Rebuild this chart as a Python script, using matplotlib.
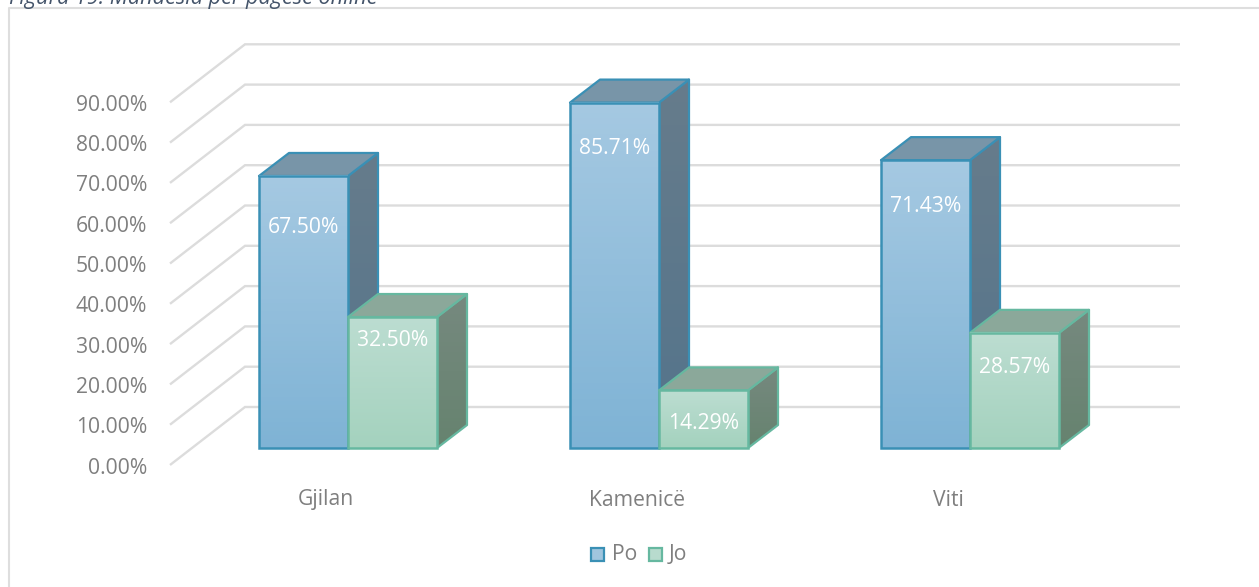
import numpy as np
import matplotlib.pyplot as plt
from matplotlib.colors import LinearSegmentedColormap
from matplotlib.patches import Polygon, Rectangle

plt.rcParams['font.family'] = ['Open Sans', 'DejaVu Sans']

categories = ['Gjilan', 'Kamenicë', 'Viti']
po_values = [67.50, 85.71, 71.43]
jo_values = [32.50, 14.29, 28.57]
ticks = [0, 10, 20, 30, 40, 50, 60, 70, 80, 90]

W, H = 1259, 587
# px per category / px per percent, origin of the scale in pixels
PX_X = 311.0
PX_Y = 4.03
X0, Y0 = 348.0, 448.0

BAR_W = 89 / PX_X
DEPTH_X = 30 / PX_X
DEPTH_Y = 23 / PX_Y
FS = 15.2

fig = plt.figure(figsize=(W / 100, H / 100), dpi=100)
ax = fig.add_axes([0, 0, 1, 1])
ax.set_xlim((0 - X0) / PX_X, (W - X0) / PX_X)
ax.set_ylim((Y0 - H) / PX_Y, Y0 / PX_Y)
ax.axis('off')


def px(x):
    return (x - X0) / PX_X


def py(y):
    return (Y0 - y) / PX_Y


def gradient(x0, x1, y0, y1, c_top, c_bottom, z):
    cmap = LinearSegmentedColormap.from_list('g', [c_top, c_bottom])
    data = np.linspace(0, 1, 64).reshape(-1, 1)
    im = ax.imshow(data, extent=(x0, x1, y0, y1), origin='upper', cmap=cmap,
                   vmin=0, vmax=1, aspect='auto', zorder=z)
    return im


def draw_bar(left, value, fill_top, fill_bottom, top_col, side_top, side_bottom, edge, z):
    right = left + BAR_W
    # side face, clipped to its parallelogram
    side = [(right, 0), (right + DEPTH_X, DEPTH_Y), (right + DEPTH_X, value + DEPTH_Y), (right, value)]
    im = gradient(right, right + DEPTH_X, 0, value + DEPTH_Y, side_top, side_bottom, z)
    clip = Polygon(side, closed=True, transform=ax.transData, fc='none', ec='none')
    ax.add_patch(clip)
    im.set_clip_path(clip)
    ax.add_patch(Polygon(side, closed=True, fc='none', ec=edge, lw=1.6, zorder=z + 0.1, joinstyle='round'))
    # top face
    top = [(left, value), (right, value), (right + DEPTH_X, value + DEPTH_Y), (left + DEPTH_X, value + DEPTH_Y)]
    ax.add_patch(Polygon(top, closed=True, fc=top_col, ec=edge, lw=1.6, zorder=z + 0.2, joinstyle='round'))
    # front face
    gradient(left, right, 0, value, fill_top, fill_bottom, z + 0.3)
    ax.add_patch(Rectangle((left, 0), BAR_W, value, fc='none', ec=edge, lw=1.8, zorder=z + 0.4))


# frame around the chart, it runs off the picture on the right and below
ax.plot([px(W + 5), px(9), px(9)], [py(8), py(8), py(H + 5)], color='#dedede', lw=1.5, zorder=1)

# the source picture cuts this caption at the top edge
ax.text(px(9), py(-2), 'Figura 19: Mandësia për pagesë online', fontsize=15.6, style='italic',
        color='#44546a', ha='left', va='center', zorder=5)

# floor offset of the value axis and gridlines
for t in ticks:
    y_back = t + 41 / PX_Y
    y_front = t - 17 / PX_Y
    ax.plot([px(170), px(245), px(1180)], [y_front, y_back, y_back], color='#dcdcdc', lw=1.7,
            solid_capstyle='butt', solid_joinstyle='miter', zorder=2)
    ax.text(px(147), y_front - 3 / PX_Y, f'{t:.2f}%', fontsize=FS, color='#7f7f7f', ha='right', va='center', zorder=5)

# bars, back to front so that each Jo bar covers the side of its Po bar
for i in range(len(categories)):
    z = 10 + i
    draw_bar(i - BAR_W, po_values[i], '#a5c9e2', '#7fb3d5', '#7895a8', '#667c8c', '#54748b', '#3a90b5', z)
    draw_bar(i, jo_values[i], '#bcddd1', '#a4d2be', '#8ba89a', '#76897f', '#66836f', '#66b8a0', z + 0.5)

# data labels sit a fixed drop below the top of each bar
po_drop = [50, 44, 44]
jo_drop = [21, 31, 33]
for i in range(len(categories)):
    ax.text(i - BAR_W / 2, po_values[i] - (po_drop[i] + 2) / PX_Y, f'{po_values[i]:.2f}%', fontsize=FS,
            color='white', ha='center', va='center', zorder=20)
    ax.text(i + BAR_W / 2, jo_values[i] - (jo_drop[i] + 2) / PX_Y, f'{jo_values[i]:.2f}%', fontsize=FS,
            color='white', ha='center', va='center', zorder=20)
    ax.text(i - 0.07, py(500), categories[i], fontsize=FS, color='#7f7f7f', ha='center', va='center', zorder=5)

# legend
for lx, tx, name, fc, ec in [(591, 612, 'Po', '#a0c5de', '#3a90b5'), (649, 669, 'Jo', '#b8dbce', '#66b8a0')]:
    ax.add_patch(Rectangle((px(lx), py(561)), 13 / PX_X, 13 / PX_Y, fc=fc, ec=ec, lw=1.6, zorder=5))
    ax.text(px(tx), py(555), name, fontsize=FS, color='#7f7f7f', ha='left', va='center', zorder=5)

ax.set_xlim((0 - X0) / PX_X, (W - X0) / PX_X)
ax.set_ylim((Y0 - H) / PX_Y, Y0 / PX_Y)
fig.savefig('out.png', dpi=100)
